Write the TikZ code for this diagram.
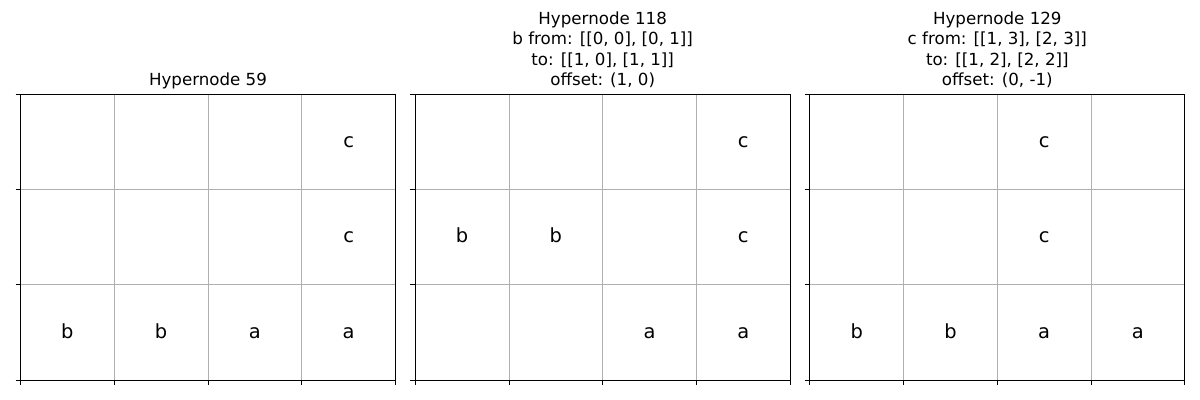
\documentclass[tikz,border=0pt]{standalone}
\usepackage{fontspec}
\setmainfont{DejaVu Sans}
\usepackage{tikz}

\definecolor{gridgray}{HTML}{B0B0B0}

\tikzset{
  gridline/.style={color=gridgray, line width=0.58pt},
  frameline/.style={black, line width=0.58pt},
  tickline/.style={black, line width=0.58pt},
  cellchar/.style={anchor=base, inner sep=0pt, font=\fontsize{14}{16.8}\selectfont},
  paneltitle/.style={anchor=base, inner sep=0pt, align=center, font=\fontsize{12}{14.8}\selectfont},
}

% one panel: name, left edge, title, list of col/row/char
\newcommand{\drawpanel}[4]{%
  \begin{scope}[shift={(#2,94)}]
    \coordinate (#1-nw) at (0,0);
    \coordinate (#1-se) at (375,286);
    \foreach \i in {1,2,3}
      \draw[gridline] (0,\i*95.333) -- (375,\i*95.333);
    \foreach \i in {1,2,3}
      \draw[gridline] (\i*93.75,0) -- (\i*93.75,286);
    \draw[frameline] (#1-nw) rectangle (#1-se);
    \foreach \i in {0,1,2,3}
      \draw[tickline] (-4.9,\i*95.333) -- (0,\i*95.333);
    \foreach \i in {0,...,4}
      \draw[tickline] (\i*93.75,286) -- (\i*93.75,290.9);
    \node[paneltitle] (#1-title) at (187.5,-8) {#3};
    \foreach \c/\r/\t in {#4}
      \node[cellchar] (#1-c\c-r\r) at ({(\c-0.5)*93.75},{(\r-0.5)*95.333+6}) {\t};
  \end{scope}
}

\begin{document}
\begin{tikzpicture}[x=0.72pt, y=-0.72pt]
\useasboundingbox (0,0) rectangle (1200,400);

\drawpanel{left}{20.5}{Hypernode 59}
  {4/1/c, 4/2/c, 1/3/b, 2/3/b, 3/3/a, 4/3/a}

\drawpanel{mid}{415.2}{Hypernode 118\\b from: [[0, 0], [0, 1]]\\to: [[1, 0], [1, 1]]\\offset: (1, 0)}
  {4/1/c, 1/2/b, 2/2/b, 4/2/c, 3/3/a, 4/3/a}

\drawpanel{right}{809.8}{Hypernode 129\\c from: [[1, 3], [2, 3]]\\to: [[1, 2], [2, 2]]\\offset: (0, -1)}
  {3/1/c, 3/2/c, 1/3/b, 2/3/b, 3/3/a, 4/3/a}

\end{tikzpicture}
\end{document}
